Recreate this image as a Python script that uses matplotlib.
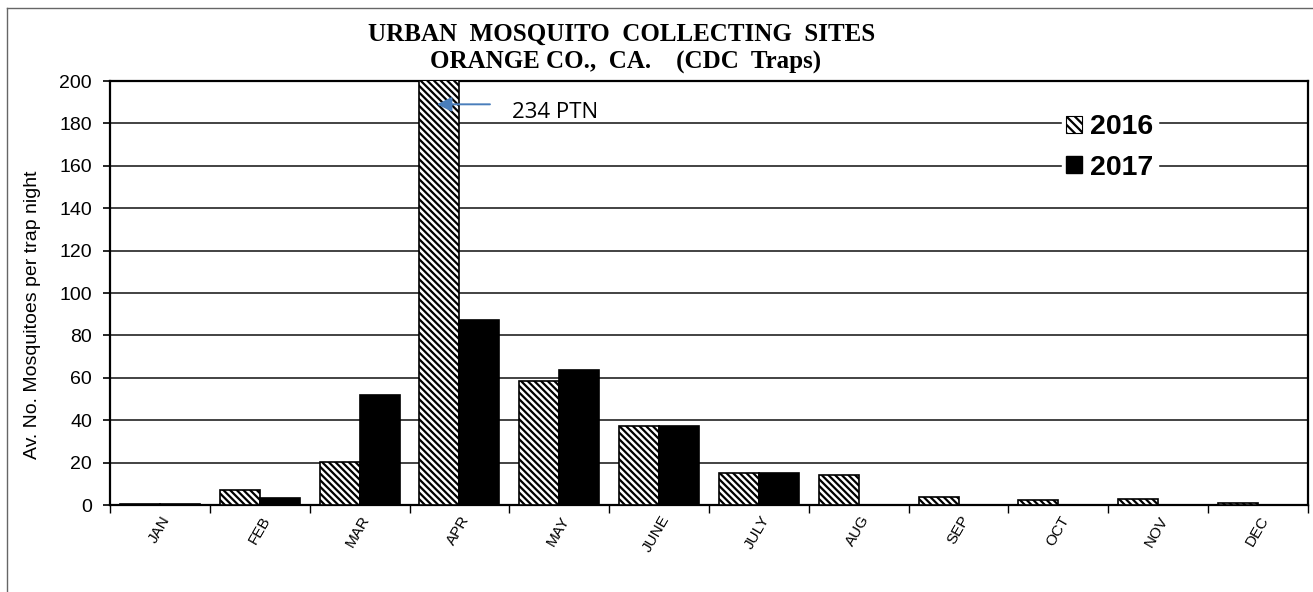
import matplotlib
matplotlib.use("Agg")
import matplotlib.pyplot as plt
import matplotlib.transforms as mtransforms
from matplotlib.lines import Line2D
from matplotlib.patches import Patch
import numpy as np

months = ["JAN", "FEB", "MAR", "APR", "MAY", "JUNE", "JULY", "AUG", "SEP", "OCT", "NOV", "DEC"]
vals_2016 = [0.7, 7.2, 20.5, 234, 58.4, 37.5, 15.0, 14.0, 3.7, 2.2, 2.8, 0.8]
vals_2017 = [0.4, 3.4, 51.8, 87.5, 63.7, 37.5, 15.0, 0.0, 0.0, 0.0, 0.0, 0.0]
series_labels = ["2016", "2017"]
yticks = [0, 20, 40, 60, 80, 100, 120, 140, 160, 180, 200]
title_lines = ["URBAN  MOSQUITO  COLLECTING  SITES", "ORANGE CO.,  CA.    (CDC  Traps)"]
ylabel = "Av. No. Mosquitoes per trap night"
note = "234 PTN"

plt.rcParams['hatch.linewidth'] = 1.6
W, H = 1313, 592
fig = plt.figure(figsize=(W / 100, H / 100), dpi=100)
L, R, T, B = 110, 1308, 81, 505
ax = fig.add_axes([L / W, 1 - B / H, (R - L) / W, (B - T) / H])

x = np.arange(len(months))
bw = 0.4
hatch = "\\" * 5
ax.bar(x - bw / 2, vals_2016, width=bw, facecolor="white", edgecolor="black",
       hatch=hatch, linewidth=1.2, zorder=3, label=series_labels[0])
ax.bar(x + bw / 2, vals_2017, width=bw, facecolor="black", edgecolor="black",
       linewidth=1.2, zorder=3, label=series_labels[1])

ax.set_xlim(-0.5, len(months) - 0.5)
ax.set_ylim(0, 200)
ax.set_yticks(yticks)
ax.yaxis.grid(True, color="#222222", linewidth=1.2, zorder=0)
ax.set_axisbelow(True)
for s in ax.spines.values():
    s.set_linewidth(1.6)
    s.set_color("black")
ax.tick_params(axis="y", direction="out", length=5, width=1.2, pad=8,
               labelsize=14, labelfontfamily="Liberation Sans")
ax.set_xticks(np.arange(len(months) + 1) - 0.5)
ax.tick_params(axis="x", direction="out", length=6, width=1.0, labelbottom=False)

# x labels
off = mtransforms.ScaledTranslation(7 / 100, -12 / 100, fig.dpi_scale_trans)
for i, m in enumerate(months):
    ax.text(i, 0, m, transform=ax.get_xaxis_transform() + off, rotation=60,
            rotation_mode="anchor", ha="right", va="center", fontsize=11,
            family="Liberation Sans")

# title
fig.text(622 / W, 1 - 34 / H, title_lines[0], ha="center", va="center",
         fontsize=18, fontweight="bold", family="Liberation Serif")
fig.text(626 / W, 1 - 62 / H, title_lines[1], ha="center", va="center",
         fontsize=18, fontweight="bold", family="Liberation Serif")

# y label
fig.text(33 / W, 1 - 315 / H, ylabel, rotation=90, ha="center", va="center",
         fontsize=14, family="Liberation Sans")

# annotation
ax.annotate("", xy=(2.776, 189), xytext=(3.306, 189),
            arrowprops=dict(arrowstyle="-|>", color="#4a7ebb", lw=1.4,
                            mutation_scale=22, shrinkA=0, shrinkB=0), zorder=5)
ax.text(3.527, 185, note, ha="left", va="center", fontsize=16, family="Open Sans")

# legend
handles = [Patch(facecolor="white", edgecolor="black", hatch="\\\\\\\\", linewidth=0.8),
           Patch(facecolor="black", edgecolor="black")]
leg = ax.legend(handles, series_labels, loc="upper left",
                bbox_to_anchor=((1062 - L) / (R - L), 1 - (110 - T) / (B - T)),
                frameon=True, fancybox=False, framealpha=1, edgecolor="white",
                facecolor="white", prop=dict(family="Liberation Sans", weight="bold", size=20.5),
                handlelength=0.55, handleheight=0.55, handletextpad=0.3,
                labelspacing=0.5, borderpad=0.15, borderaxespad=0)
leg.set_zorder(6)

# figure border (left and top visible)
fig.add_artist(Line2D([7 / W, 7 / W], [0, 1 - 8 / H], transform=fig.transFigure,
                      color="#666666", lw=1.0))
fig.add_artist(Line2D([7 / W, 1], [1 - 8 / H, 1 - 8 / H], transform=fig.transFigure,
                      color="#666666", lw=1.0))

fig.savefig("out.png", dpi=100, facecolor="white")
